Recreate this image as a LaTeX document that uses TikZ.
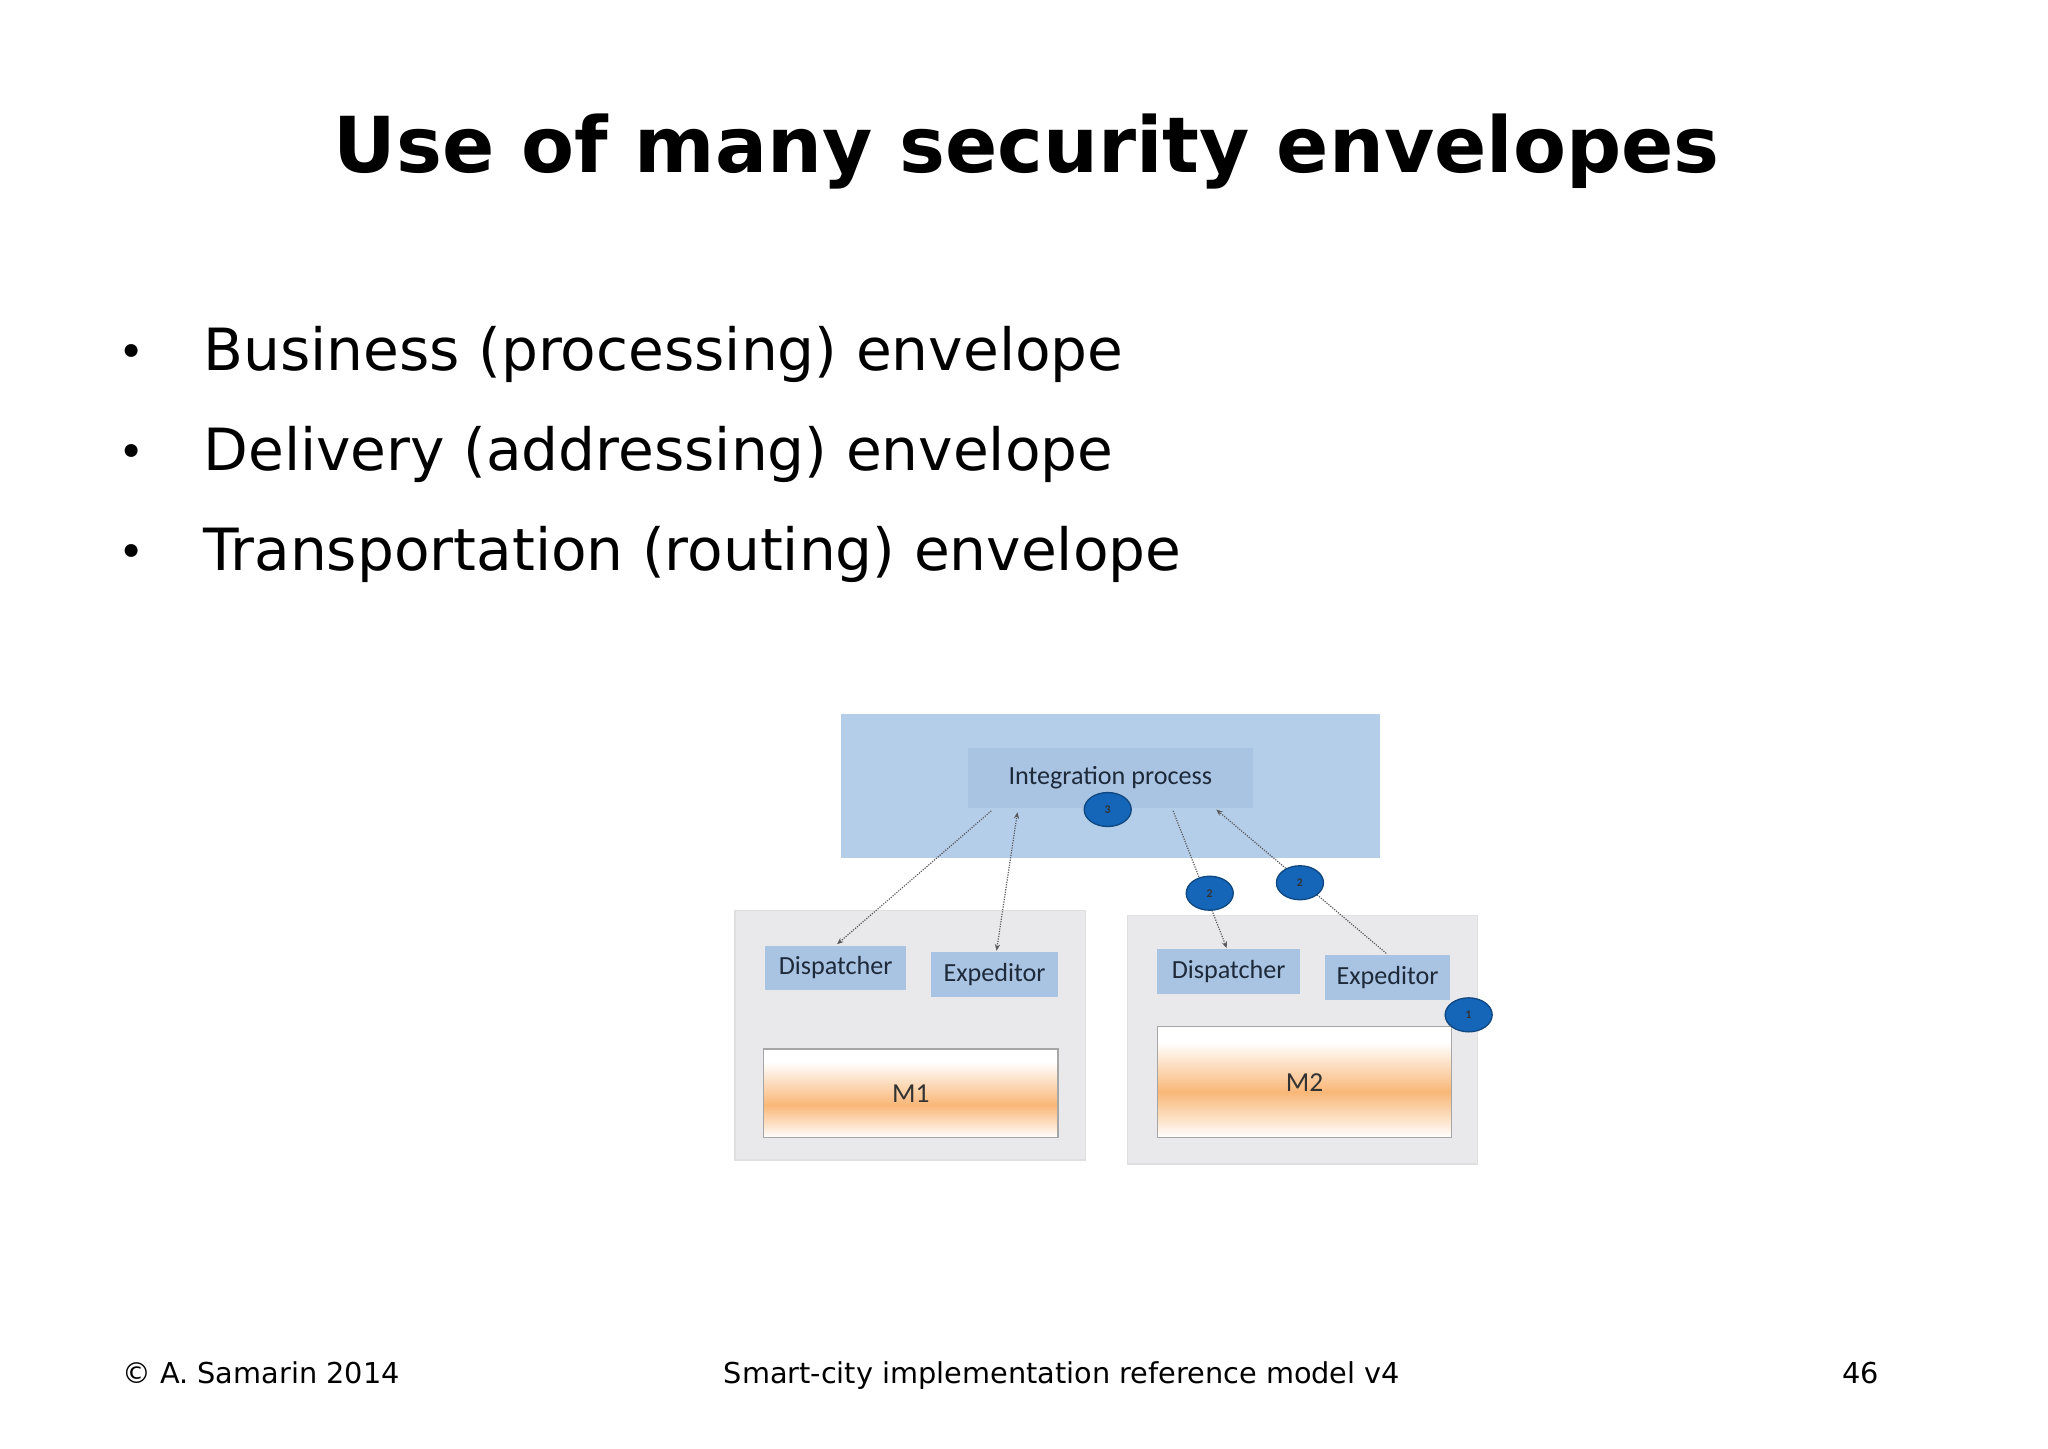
\documentclass[tikz,border=0pt]{standalone}
\usepackage{fontspec}
\setmainfont{DejaVu Sans}
\newfontfamily\diag{Carlito}
\usetikzlibrary{arrows.meta,shapes.geometric}
\definecolor{bigblue}{HTML}{B4CDE9}
\definecolor{boxblue}{HTML}{A9C3E2}
\definecolor{contgray}{HTML}{E9E9EB}
\definecolor{circblue}{HTML}{1565B8}
\definecolor{orng}{HTML}{F9B777}
\definecolor{txtdark}{HTML}{1E2A3A}
\tikzset{
  lbl/.style={fill=boxblue,font=\diag\fontsize{20}{22}\selectfont,text=txtdark,inner sep=0pt,anchor=center},
  cont/.style={fill=contgray,draw=gray!25,line width=1pt},
  num/.style={ellipse,fill=circblue,draw=circblue!70!black,line width=1pt,minimum width=36pt,minimum height=26pt,inner sep=0pt,font=\diag\bfseries\fontsize{9}{9}\selectfont,text=black!80},
  con/.style={densely dotted,line width=0.9pt,color=gray!70!black},
  tip/.style={-{Stealth[length=5pt,width=4pt]}},
}
\begin{document}
\begin{tikzpicture}[x=1pt,y=1pt]
\fill[white] (0,0) rectangle (1566,-1107.4);
\useasboundingbox (0,0) rectangle (1566,-1107.4);
\node[font=\bfseries\fontsize{59}{62}\selectfont] (title) at (785,-116) {Use of many security envelopes};
\foreach \t/\y [count=\i] in {Business (processing) envelope/268,Delivery (addressing) envelope/345,Transportation (routing) envelope/421}{
  \node[anchor=base west,font=\fontsize{44.5}{48}\selectfont] (b\i) at (152,-\y-15) {\t};
  \node[font=\fontsize{34}{36}\selectfont] (d\i) at (101,-\y-4) {•};
}
\node[anchor=base west,font=\fontsize{22}{26}\selectfont] (f1) at (90,-1058) {© A. Samarin 2014};
\node[anchor=base,font=\fontsize{22}{26}\selectfont] (f2) at (812,-1058) {Smart-city implementation reference model v4};
\node[anchor=base east,font=\fontsize{22}{26}\selectfont] (f3) at (1440,-1058) {46};
% diagram
\fill[bigblue] (643,-546) rectangle (1055,-656);
\node[lbl,minimum width=218pt,minimum height=46pt] (ip) at (849,-595) {Integration process};
\fill[cont] (562,-696) rectangle (830,-887);
\fill[cont] (862,-700) rectangle (1130,-890);
\node[lbl,minimum width=108pt,minimum height=34pt] (d1) at (639,-740) {Dispatcher};
\node[lbl,minimum width=97pt,minimum height=34pt] (e1) at (760.5,-745) {Expeditor};
\node[lbl,minimum width=109pt,minimum height=34pt] (d2) at (939.5,-743) {Dispatcher};
\node[lbl,minimum width=96pt,minimum height=35pt] (e2) at (1061,-747.5) {Expeditor};
\foreach \n/\xa/\ya/\xb/\yb/\ym/\yw in {m1/584/802/809/870/845/818,m2/885/785/1110/870/835/803}{
  \fill[white] (\xa,-\ya) rectangle (\xb,-\yw+6);
  \shade[top color=white,bottom color=orng] (\xa,-\yw+6) rectangle (\xb,-\ym);
  \shade[top color=orng,bottom color=white] (\xb,-\ym) rectangle (\xa,-\yb);
}
\node[draw=gray!70,line width=1pt,minimum width=225pt,minimum height=68pt,font=\diag\fontsize{21}{22}\selectfont,text=black!80] (m1) at (696.5,-836) {M1};
\node[draw=gray!70,line width=1pt,minimum width=225pt,minimum height=85pt,font=\diag\fontsize{21}{22}\selectfont,text=black!80] (m2) at (997.5,-827.5) {M2};
\coordinate (s1) at (758,-620);
\coordinate (s2) at (778,-621);
\coordinate (s3) at (897,-620);
\coordinate (s4) at (930,-619);
\coordinate (t1) at (640,-722);
\coordinate (t2) at (762,-727);
\coordinate (t3) at (938,-725);
\coordinate (t4) at (1060,-729);
\draw[con,tip] (s1) -- (t1);
\draw[con,{Stealth[length=5pt,width=4pt]}-{Stealth[length=5pt,width=4pt]}] (t2) -- (s2);
\draw[con,tip] (s3) -- (t3);
\draw[con,tip] (t4) -- (s4);
\node[num] (c3) at (847,-619) {3};
\node[num] (c2a) at (925,-683) {2};
\node[num] (c2b) at (994,-675) {2};
\node[num] (c1) at (1123,-776) {1};
\end{tikzpicture}
\end{document}
